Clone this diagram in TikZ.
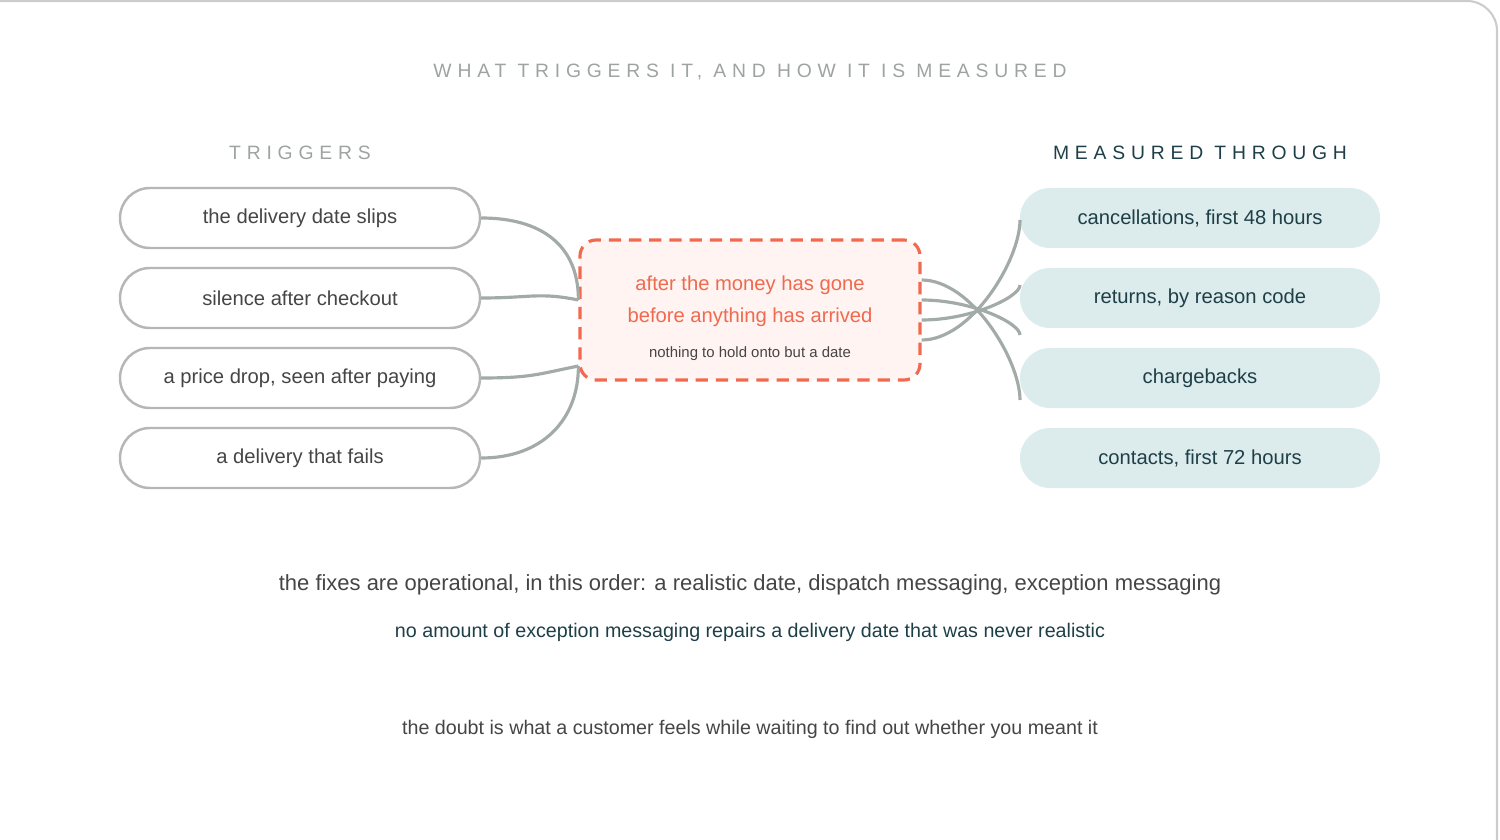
\documentclass[tikz,border=0pt]{standalone}
\usepackage{fontspec}
\setmainfont{Liberation Sans}
\newfontfamily\spacedfont[LetterSpace=30]{Liberation Sans}
\usetikzlibrary{positioning}
\definecolor{linkgray}{HTML}{A3ABA9}
\definecolor{pillgray}{HTML}{B4B7B6}
\definecolor{inktext}{HTML}{454545}
\definecolor{tealfill}{HTML}{DCEBEC}
\definecolor{tealtext}{HTML}{1E3F47}
\definecolor{coral}{HTML}{EF6A4E}
\definecolor{coralfill}{HTML}{FFF4F2}
\definecolor{headgray}{HTML}{9EA3A2}
\tikzset{
	trigger/.style={draw=pillgray, line width=1.4pt, rounded corners=30*0.2mm, minimum width=360*0.2mm, minimum height=60*0.2mm, text=inktext, font=\fontsize{11.5}{13}\selectfont, inner sep=0pt},
	measure/.style={fill=tealfill, rounded corners=30*0.2mm, minimum width=360*0.2mm, minimum height=60*0.2mm, text=tealtext, font=\fontsize{11.5}{13}\selectfont, inner sep=0pt},
	link/.style={draw=linkgray, line width=1.8pt},
	heading/.style={font=\spacedfont\fontsize{11}{13}\selectfont, inner sep=0pt}
}
\begin{document}
\begin{tikzpicture}[x=0.2mm, y=-0.2mm]
	\useasboundingbox (0,0) rectangle (1500,840);
	\begin{scope}
		\clip (0,0) rectangle (1500,840);
		\draw[draw=pillgray!70, line width=1.2pt, rounded corners=30*0.2mm] (-40,1) rectangle (1497,900);
	\end{scope}

	\node[heading, text=headgray] (title) at (750,72) {WHAT TRIGGERS IT, AND HOW IT IS MEASURED};
	\node[heading, text=headgray] (trighead) at (300,153) {TRIGGERS};
	\node[heading, text=tealtext] (meashead) at (1200,153) {MEASURED THROUGH};

	\node[trigger] (t1) at (300,218) {the delivery date slips};
	\node[trigger] (t2) at (300,298) {silence after checkout};
	\node[trigger] (t3) at (300,378) {a price drop, seen after paying};
	\node[trigger] (t4) at (300,458) {a delivery that fails};

	\node[measure] (m1) at (1200,218) {cancellations, first 48 hours};
	\node[measure] (m2) at (1200,298) {returns, by reason code};
	\node[measure] (m3) at (1200,378) {chargebacks};
	\node[measure] (m4) at (1200,458) {contacts, first 72 hours};

	\node[draw=coral, fill=coralfill, line width=1.8pt, dash pattern=on 7pt off 4.5pt, rounded corners=16*0.2mm, minimum width=340*0.2mm, minimum height=140*0.2mm] (core) at (750,310) {};
	\node[text=coral, align=center, font=\fontsize{11.5}{18}\selectfont] (corelines) at (750,301) {after the money has gone\\before anything has arrived};
	\node[text=inktext, font=\fontsize{8.5}{10}\selectfont] (corenote) at (750,354) {nothing to hold onto but a date};

	% triggers into the core
	\coordinate (inA) at ([yshift=2mm]core.west);
	\coordinate (inB) at ([yshift=-11.2mm]core.west);
	\draw[link] (t1.east) .. controls +(60,0) and +(0,-55) .. (inA);
	\draw[link] (t2.east) .. controls +(50,0) and +(-40,-8) .. (inA);
	\draw[link] (t3.east) .. controls +(50,0) and +(-40,8) .. (inB);
	\draw[link] (t4.east) .. controls +(60,0) and +(0,55) .. (inB);

	% core out to the measures
	\foreach \i/\oy/\ey/\dx/\dy in {1/-30/220/55/40, 2/-10/285/50/12, 3/10/335/50/-12, 4/30/400/55/-40}{
		\coordinate (out\i) at ([yshift=\oy*0.2mm]core.east);
		\coordinate (end\i) at (1020,\ey);
		\draw[link] (out\i) .. controls +(50,0) and +(0,\dy) .. (end\i);
	}

	\node[text=inktext, font=\fontsize{12.5}{15}\selectfont] (fixes) at (750,585) {the fixes are operational, in this order: a realistic date, dispatch messaging, exception messaging};
	\node[text=tealtext, font=\fontsize{11.2}{14}\selectfont, below=3.2mm of fixes] (never) {no amount of exception messaging repairs a delivery date that was never realistic};
	\node[text=inktext, font=\fontsize{11.2}{14}\selectfont] (doubt) at (750,729) {the doubt is what a customer feels while waiting to find out whether you meant it};
\end{tikzpicture}
\end{document}
